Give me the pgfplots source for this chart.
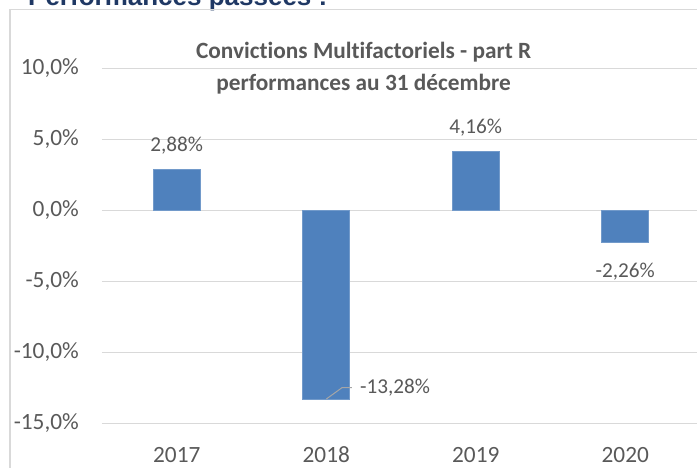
\documentclass[border=0pt]{standalone}
\usepackage{fontspec}
\setmainfont{Carlito}[Ligatures=NoCommon]
\newfontfamily\arialf{Liberation Sans}
\usepackage{pgfplots}
\pgfplotsset{compat=1.18}
\definecolor{txt}{HTML}{595959}
\definecolor{barc}{HTML}{4F81BD}
\definecolor{gridc}{HTML}{D9D9D9}
\definecolor{navy}{HTML}{1F3864}
\definecolor{leader}{HTML}{A6A6A6}
\begin{document}
\begin{tikzpicture}
\path[use as bounding box] (0pt,0pt) rectangle (697pt,467pt);
\begin{scope}
\clip (0pt,0pt) rectangle (697pt,467pt);
\node[anchor=base west, font=\arialf\bfseries\fontsize{26}{30}\selectfont, text=navy, inner sep=0pt] at (28pt,461pt) {Performances passées :};
\draw[gridc, line width=1.2pt] (10pt,-10pt) -- (10pt,457.5pt) -- (720pt,457.5pt);
\begin{axis}[
  at={(102pt,43.5pt)}, anchor=south west,
  scale only axis, width=598pt, height=355pt,
  xmin=-0.5, xmax=3.5, ymin=-15, ymax=10,
  axis line style={draw=none},
  major tick length=0pt,
  ymajorgrids, grid style={gridc, line width=1.2pt},
  ytick={-15,-10,-5,0,5,10},
  yticklabels={{-15,0\%},{-10,0\%},{-5,0\%},{0,0\%},{5,0\%},{10,0\%}},
  xtick={0,1,2,3},
  xticklabels={2017,2018,2019,2020},
  tick label style={font=\fontsize{23.3}{27}\selectfont, text=txt, inner sep=0pt},
  yticklabel style={anchor=east, xshift=-23pt},
  xticklabel style={anchor=base, yshift=-38.5pt},
  clip=false,
]
\addplot[ybar, bar width=47pt, fill=barc, draw=barc!80!white, line width=0.6pt]
  coordinates {(0,2.88) (1,-13.28) (2,4.16) (3,-2.26)};
\begin{scope}[font=\fontsize{21.2}{25}\selectfont, text=txt]
\node[anchor=south, inner sep=0pt] at (axis cs:0,2.88) [yshift=15pt] {2,88\%};
\node[anchor=south, inner sep=0pt] at (axis cs:2,4.16) [yshift=15pt] {4,16\%};
\node[anchor=north, inner sep=0pt] at (axis cs:3,-2.26) [yshift=-20.5pt] {-2,26\%};
\node[anchor=west, inner sep=0pt] at (axis cs:1.225,-12.48) {-13,28\%};
\end{scope}
\draw[leader, line width=1pt] (axis cs:1,-13.28) -- (axis cs:1.105,-12.48) -- (axis cs:1.172,-12.48);
\node[font=\bfseries\fontsize{23.3}{27}\selectfont, text=txt, anchor=base, inner sep=0pt] at (axis cs:1.25,10.67) {Convictions Multifactoriels - part R};
\node[font=\bfseries\fontsize{23.3}{27}\selectfont, text=txt, anchor=base, inner sep=0pt] at (axis cs:1.25,8.42) {performances au 31 décembre};
\end{axis}
\end{scope}
\end{tikzpicture}
\end{document}
